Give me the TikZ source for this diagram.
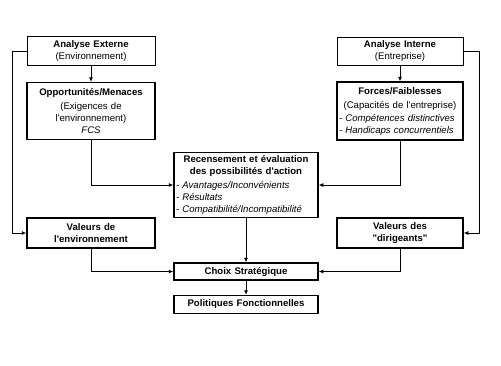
\documentclass[tikz,border=0pt]{standalone}
\usepackage{fontspec}
\setmainfont{Liberation Sans}[Ligatures=TeXOff]
\usetikzlibrary{arrows.meta,positioning}

\newcommand{\lline}[1]{\makebox[\hsize][l]{#1}}

\begin{document}
\begin{tikzpicture}[
            x=1pt, y=-1pt,
            font=\fontsize{9.6}{12}\selectfont,
            box/.style={rectangle, draw, align=center, inner sep=2pt, line width=1.5pt, fill=white},
            thinbox/.style={box, line width=0.8pt},
            arrow/.style={-{Latex[length=4.5pt,width=4pt]}, line width=0.8pt}
        ]
            \useasboundingbox (0,0) rectangle (501,365);

            % --- ANALYSE EXTERNE (Esquerda) ---
            \node[thinbox, text width=124pt, minimum height=29pt] (ext) at (91,51)
                {\textbf{Analyse Externe}\\(Environnement)};
            \node[box, text width=124pt, minimum height=57pt, below=16pt of ext] (opp)
                {\textbf{Opportunités/Menaces}\\[2pt](Exigences de\\l'environnement)\\\textit{FCS}};
            \node[box, text width=124pt, minimum height=30pt] (envVal) at (91,233)
                {\textbf{Valeurs de}\\\textbf{l'environnement}};

            % --- ANALYSE INTERNE (Direita) ---
            \node[thinbox, text width=122pt, minimum height=28pt] (int) at (400,51)
                {\textbf{Analyse Interne}\\(Entreprise)};
            \node[box, text width=122pt, minimum height=58pt, below=16pt of int] (forces)
                {\textbf{Forces/Faiblesses}\\[2pt](Capacités de l'entreprise)\\[1pt]
                 \lline{\textit{- Compétences distinctives}}\\
                 \lline{\textit{- Handicaps concurrentiels}}};
            \node[box, text width=122pt, minimum height=30pt] (dirVal) at (400,233)
                {\textbf{Valeurs des}\\\textbf{"dirigeants"}};

            % --- CENTRO ---
            \node[box, text width=140pt, minimum height=65pt] (rec) at (246,185)
                {\textbf{Recensement et évaluation}\\\textbf{des possibilités d'action}\\[2pt]
                 \lline{\textit{- Avantages/Inconvénients}}\\
                 \lline{\textit{- Résultats}}\\
                 \lline{\textit{- Compatibilité/Incompatibilité}}};
            \node[box, text width=140pt, minimum height=17pt, below=44pt of rec] (choix)
                {\textbf{Choix Stratégique}};
            \node[box, text width=140pt, minimum height=18pt, below=14pt of choix] (pol)
                {\textbf{Politiques Fonctionnelles}};

            % Ligações
            \draw[arrow] (ext) -- (opp);
            \draw[arrow] (int) -- (forces);
            \draw[arrow] (ext.west) -- ++(-14,0) |- (envVal.west);
            \draw[arrow] (int.east) -- ++(16,0) |- (dirVal.east);
            \draw[arrow] (opp.south) |- (rec.west);
            \draw[arrow] (forces.south) |- (rec.east);
            \draw[arrow] (envVal.south) |- (choix.west);
            \draw[arrow] (dirVal.south) |- (choix.east);
            \draw[arrow] (rec) -- (choix);
            \draw[arrow] (choix) -- (pol);

        \end{tikzpicture}
\end{document}
